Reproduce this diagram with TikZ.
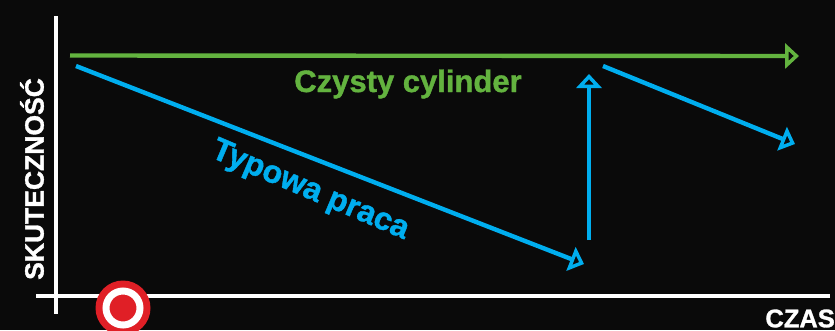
\documentclass[tikz,border=0pt]{standalone}
\usepackage{fontspec}
\setmainfont[BoldFeatures={FakeBold=1.2}]{Liberation Sans}
\usetikzlibrary{arrows.meta}
\definecolor{bg}{HTML}{0A0A0A}
\definecolor{grn}{HTML}{63B33F}
\definecolor{blu}{HTML}{00AEEF}
\definecolor{rd}{HTML}{E01F26}
\tikzset{
  axisline/.style={draw=white,line width=3.4pt},
  flow/.style={line width=4.4pt,-{Triangle[open,length=14pt,width=25pt,line width=4.4pt]}},
  lbl/.style={inner sep=0pt},
}
\begin{document}
\begin{tikzpicture}[x=1pt,y=-1pt]
\path[use as bounding box,fill=bg] (0,0) rectangle (835,330);
\coordinate (ytop) at (56,16);
\coordinate (ybot) at (56,314);
\coordinate (xl) at (36,296);
\coordinate (xr) at (830,296);
\draw[axisline] (ytop) -- (ybot);
\draw[axisline] (xl) -- (xr);
\node[circle,fill=rd,draw=none,minimum size=55pt,inner sep=0pt] (mark) at (123,308) {};
\node[circle,fill=rd,draw=white,line width=7pt,minimum size=34pt,inner sep=0pt] (markin) at (123,308) {};
\coordinate (g1) at (70,55.5);
\coordinate (g2) at (799,56);
\draw[flow,grn] (g1) -- (g2);
\coordinate (b1) at (76,66);
\coordinate (b2) at (584,264);
\draw[flow,blu] (b1) -- (b2);
\coordinate (b3) at (589,240);
\coordinate (b4) at (589,74);
\draw[flow,blu] (b3) -- (b4);
\coordinate (b5) at (603,66);
\coordinate (b6) at (795,144);
\draw[flow,blu] (b5) -- (b6);
\node[lbl,text=grn,font=\fontsize{31}{31}\selectfont\bfseries] (t1) at (408,84) {Czysty cylinder};
\node[lbl,text=blu,font=\fontsize{32}{32}\selectfont\bfseries,rotate=-23] (t2) at (310,191) {Typowa praca};
\node[lbl,text=white,font=\fontsize{26.5}{26.5}\selectfont\bfseries,rotate=90] (t3) at (32,179) {SKUTECZNOŚĆ};
\node[lbl,text=white,font=\fontsize{25.5}{25.5}\selectfont\bfseries,anchor=east] (t4) at (835,318.5) {CZAS};
\end{tikzpicture}
\end{document}
